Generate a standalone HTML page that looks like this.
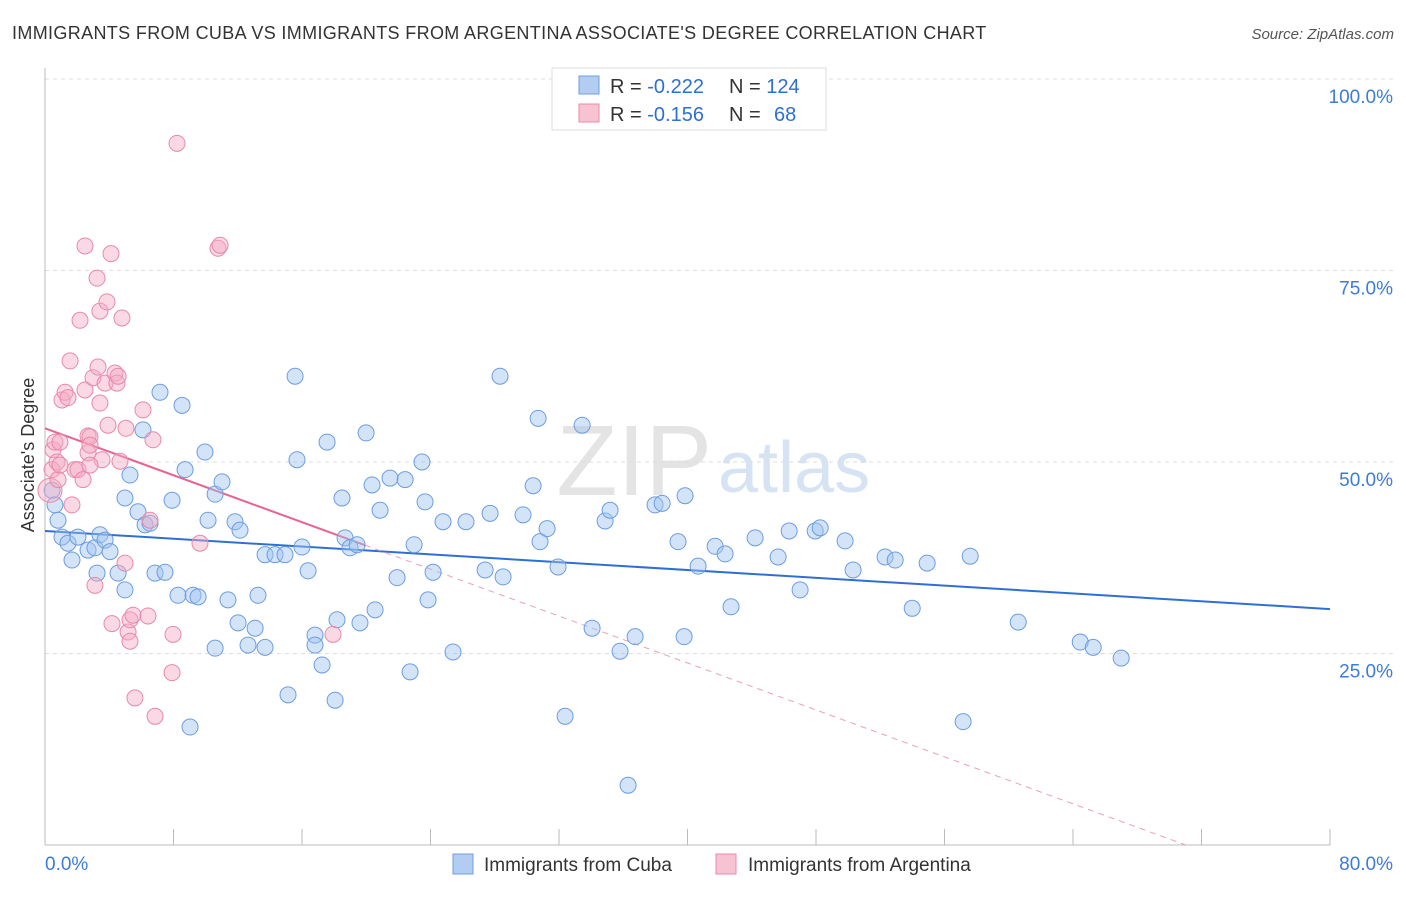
<!DOCTYPE html>
<html><head><meta charset="utf-8">
<style>
body{margin:0;background:#fff;font-family:"Liberation Sans",sans-serif;}
svg text{font-family:"Liberation Sans",sans-serif;}
</style></head>
<body>
<svg id="chart" width="1406" height="892" viewBox="0 0 1406 892" xmlns="http://www.w3.org/2000/svg">
<text x="12" y="39" font-size="18" fill="#333" letter-spacing="0.35">IMMIGRANTS FROM CUBA VS IMMIGRANTS FROM ARGENTINA ASSOCIATE'S DEGREE CORRELATION CHART</text>
<text x="1394" y="39" font-size="15" fill="#555" font-style="italic" text-anchor="end">Source: ZipAtlas.com</text>
<text x="712" y="495" font-size="100" fill="#e4e4e4" font-family="Liberation Serif" text-anchor="end">ZIP</text>
<text x="718" y="492" font-size="72" fill="#d6e3f3">atlas</text>
<g id="grid"></g>
<g id="axes"></g>
<g id="trend"></g>
<g id="points"></g>
<text transform="translate(34,455) rotate(-90)" font-size="18" fill="#333" text-anchor="middle">Associate's Degree</text>
<g>
<rect x="552" y="68" width="274" height="62" fill="#fff" stroke="#ddd"/>
<rect x="579" y="76" width="20" height="18" fill="#b3cdf2" stroke="#6c9de0"/>
<text x="610" y="93" font-size="20" fill="#333">R = <tspan fill="#2f6fd4">-0.222</tspan></text>
<text x="729" y="93" font-size="20" fill="#333">N = <tspan fill="#2f6fd4">124</tspan></text>
<rect x="579" y="104" width="20" height="18" fill="#f7c3d2" stroke="#e889a8"/>
<text x="610" y="121" font-size="20" fill="#333">R = <tspan fill="#2f6fd4">-0.156</tspan></text>
<text x="729" y="121" font-size="20" fill="#333">N = </text>
<text x="774" y="121" font-size="20" fill="#2f6fd4">68</text>
</g>
<g>
<rect x="453" y="854" width="20" height="20" fill="#b3cdf2" stroke="#6c9de0"/>
<text x="484" y="871" font-size="19" fill="#333">Immigrants from Cuba</text>
<rect x="716" y="854" width="20" height="20" fill="#f7c3d2" stroke="#e889a8"/>
<text x="748" y="871" font-size="19" fill="#333">Immigrants from Argentina</text>
</g>
</svg>
<script>
const cubaX=[0.44,0.62,0.81,1.06,1.43,1.68,2.05,2.68,3.11,3.24,3.42,3.74,4.05,4.55,4.98,5.29,4.98,5.79,6.23,6.54,6.10,7.16,6.85,7.47,7.91,8.28,8.53,8.72,9.22,9.53,9.96,10.15,10.59,11.02,11.39,10.59,11.83,12.14,12.02,12.64,13.08,13.26,13.70,13.70,14.32,15.13,14.94,15.57,15.69,16.00,16.38,16.81,16.81,17.25,17.56,18.06,18.18,18.49,18.68,18.99,19.43,19.61,19.99,20.36,20.55,20.86,21.48,21.92,22.42,22.73,22.98,23.47,23.66,23.85,24.16,24.78,25.40,26.21,27.40,27.71,28.33,28.52,29.76,30.39,30.70,30.82,31.26,31.94,32.38,33.44,34.06,34.87,35.18,35.80,36.74,37.98,38.42,39.41,39.85,39.79,40.66,41.72,42.34,42.71,44.21,45.64,46.33,47.01,47.95,48.26,49.81,50.31,52.30,52.93,53.99,54.92,57.16,57.60,60.59,64.45,65.26,67.00,36.30,9.03];
const cubaY=[46.3,44.4,42.4,40.2,39.4,37.2,40.2,38.5,38.8,35.5,40.5,39.8,38.3,35.5,33.3,48.3,45.3,43.5,41.8,42.0,54.2,59.1,35.5,35.6,45.0,32.6,57.4,49.0,32.6,32.4,51.3,42.4,45.8,47.4,32.0,25.7,42.2,41.1,29.0,26.1,28.3,32.6,25.8,37.9,37.9,19.6,37.9,61.2,50.3,38.9,35.8,27.4,26.1,23.5,52.6,18.9,29.4,45.3,40.1,38.8,39.2,29.0,53.8,47.0,30.7,43.7,47.9,34.9,47.7,22.6,39.2,50.0,44.8,32.0,35.6,42.2,25.2,42.2,35.9,43.3,61.2,35.0,43.1,46.9,55.7,39.6,41.3,36.3,16.8,54.8,28.3,42.3,43.7,25.3,27.2,44.4,44.6,39.6,45.6,27.2,36.4,39.0,38.0,31.1,40.1,37.6,41.0,33.3,41.0,41.4,39.7,35.9,37.6,37.2,30.9,36.8,16.1,37.7,29.1,26.5,25.8,24.4,7.8,15.4];
const argX=[0.31,0.44,0.50,0.62,0.75,0.81,0.93,0.93,1.06,1.25,1.43,1.56,1.68,1.87,2.05,2.18,2.49,2.68,2.68,2.49,2.80,2.80,2.99,3.24,3.30,3.42,3.42,3.55,3.74,3.86,3.92,4.11,4.17,4.36,4.48,4.55,4.67,4.79,4.98,5.04,5.17,5.29,5.48,5.60,6.10,6.41,6.54,6.72,6.85,7.97,7.91,8.22,9.65,10.77,10.90,17.93,3.11,5.29,2.37,2.80];
const argY=[46.3,49.0,51.6,52.6,50.0,47.7,49.6,52.6,58.1,59.1,58.4,63.2,44.4,49.0,49.0,68.5,78.2,53.4,51.2,59.4,53.3,52.2,61.0,74.0,62.4,69.7,57.7,50.3,60.3,70.9,54.8,77.2,28.9,61.6,60.3,61.2,50.1,68.8,36.8,54.4,27.8,29.4,30.0,19.2,56.8,29.9,42.4,52.9,16.8,27.5,22.5,91.6,39.4,77.9,78.3,27.5,33.9,26.6,47.7,49.6];
const trendCuba=[41.0,30.8];
const trendArg=[54.4,-0.766];
const yTicks=[25,50,75,100];
const yTickLabels=["25.0%","50.0%","75.0%","100.0%"];
const xTicks=[0,8,16,24,32,40,48,56,64,72,80];

const NS="http://www.w3.org/2000/svg";
const X0=45,X1=1330,Y0=845,Ytop=79;
const sx=v=>X0+(X1-X0)*v/80;
const sy=v=>Y0-(Y0-Ytop)*v/100;
function mk(tag,attrs,parent){const e=document.createElementNS(NS,tag);for(const k in attrs)e.setAttribute(k,attrs[k]);document.getElementById(parent).appendChild(e);return e;}

yTicks.forEach((t,i)=>{
 const g=mk('line',{x1:X0,x2:1393,y1:sy(t),y2:sy(t),stroke:'#ddd','stroke-dasharray':'4,4'},'grid');
 
 
 const l=mk('text',{x:1393,y:sy(t)+24,'font-size':19,fill:'#3d7bd8','text-anchor':'end'},'grid');
 l.textContent=yTickLabels[i];
 
 
});
const ax=mk('line',{x1:X0,x2:X1,y1:Y0,y2:Y0,stroke:'#bbb'},'axes');


const ay=mk('line',{x1:X0,x2:X0,y1:68,y2:Y0,stroke:'#bbb'},'axes');


xTicks.forEach(t=>{
 const tk=mk('line',{x1:sx(t),x2:sx(t),y1:829,y2:Y0,stroke:'#bbb'},'axes');
 
 
});
const xl0=mk('text',{x:45,y:870,'font-size':19,fill:'#3d7bd8'},'axes');xl0.textContent='0.0%';


const xl1=mk('text',{x:1393,y:870,'font-size':19,fill:'#3d7bd8','text-anchor':'end'},'axes');xl1.textContent='80.0%';



cubaX.forEach((x,i)=>{
 const c=mk('circle',{cx:sx(x),cy:sy(cubaY[i]),r:8,fill:'rgba(160,195,240,0.45)',stroke:'#6c9de0','stroke-width':1},'points');
 
 
});
argX.forEach((x,i)=>{
 const c=mk('circle',{cx:sx(x),cy:sy(argY[i]),r:i===0?12:8,fill:'rgba(244,170,195,0.45)',stroke:'#e889a8','stroke-width':1},'points');
 
 
});
const tc=mk('line',{x1:sx(0),y1:sy(trendCuba[0]),x2:sx(80),y2:sy(trendCuba[1]),stroke:'#2f6fd4','stroke-width':2},'trend');


const fa=x=>trendArg[0]+trendArg[1]*x;
const xEnd=Math.min(80,-trendArg[0]/trendArg[1]);
const ta=mk('line',{x1:sx(0),y1:sy(fa(0)),x2:sx(19.9),y2:sy(fa(19.9)),stroke:'#e8638f','stroke-width':2},'trend');


const td=mk('line',{x1:sx(19.9),y1:sy(fa(19.9)),x2:sx(xEnd),y2:sy(fa(xEnd)),stroke:'#e8a0b8','stroke-width':1,'stroke-dasharray':'6,5'},'trend');


</script>
</body></html>
